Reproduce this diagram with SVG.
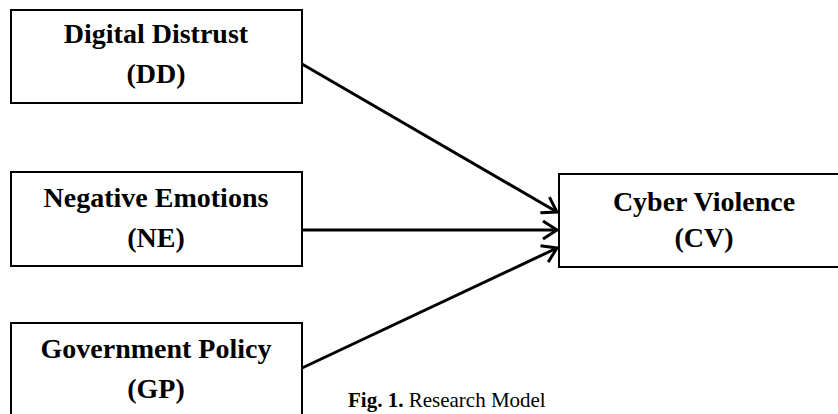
<svg xmlns="http://www.w3.org/2000/svg" width="838" height="414" viewBox="0 0 838 414">
<style>
.box{fill:#fff;stroke:#000;stroke-width:2}
.t{font-family:"Liberation Serif","Times New Roman",serif;font-weight:bold;font-size:28px;text-anchor:middle;fill:#000}
.cap{font-family:"Liberation Serif","Times New Roman",serif;font-size:21px;fill:#000}
.c{fill:none;stroke:#000;stroke-width:3}
</style>
<defs>
<marker id="ah" markerUnits="userSpaceOnUse" markerWidth="20" markerHeight="24" viewBox="0 0 20 24" refX="18" refY="12" orient="auto">
<path d="M4,3 L18,12 L4,21" fill="none" stroke="#000" stroke-width="3"/>
</marker>
</defs>
<rect width="838" height="414" fill="#fff"/>
<g id="connectors">
<line class="c" x1="302" y1="64" x2="557" y2="212" marker-end="url(#ah)"/>
<line class="c" x1="302" y1="230" x2="557" y2="230" marker-end="url(#ah)"/>
<line class="c" x1="302" y1="368" x2="557" y2="248" marker-end="url(#ah)"/>
</g>
<g id="DD">
<rect class="box" x="11" y="10" width="291" height="93"/>
<text class="t" x="156" y="43">Digital Distrust</text>
<text class="t" x="156" y="83">(DD)</text>
</g>
<g id="NE">
<rect class="box" x="11" y="172" width="291" height="94"/>
<text class="t" x="156" y="207">Negative Emotions</text>
<text class="t" x="156" y="247">(NE)</text>
</g>
<g id="GP">
<rect class="box" x="11" y="323" width="291" height="100"/>
<text class="t" x="156" y="358">Government Policy</text>
<text class="t" x="156" y="398">(GP)</text>
</g>
<g id="CV">
<rect class="box" x="559" y="174" width="300" height="93"/>
<text class="t" x="704" y="211">Cyber Violence</text>
<text class="t" x="704" y="247">(CV)</text>
</g>
<text class="cap" x="348" y="407"><tspan font-weight="bold">Fig. 1.</tspan> Research Model</text>
</svg>
